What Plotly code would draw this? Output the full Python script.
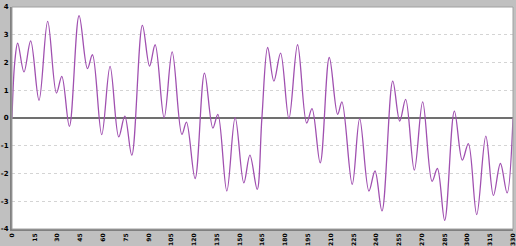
import plotly.graph_objects as go

x_vals = [0, 1.8, 3.75, 7.9, 12.3, 17.8, 23.5, 29.3, 32.8, 37.8, 44.2, 49.7,
          53.0, 59.1, 64.6, 70.3, 74.3, 78.9, 85.9, 90.6, 94.3, 100.2, 105.5,
          111.9, 114.9, 120.6, 126.8, 132.3, 135.6, 141.5, 147.0, 152.7, 156.7,
          161.5, 164.6, 168.4, 172.5, 176.9, 182.4, 188.1, 194.1, 197.6, 203.0,
          209.0, 214.5, 217.3, 224.1, 229.0, 235.1, 239.1, 243.7, 250.8, 255.4,
          259.3, 265.0, 270.5, 276.7, 280.2, 285.0, 291.4, 296.6, 300.6, 306.1,
          312.1, 317.1, 321.7, 326.1, 330]
y_vals = [0, 2.0, 2.70, 1.66, 2.78, 0.64, 3.48, 0.90, 1.50, -0.30, 3.69, 1.78,
          2.28, -0.60, 1.86, -0.68, 0.07, -1.34, 3.34, 1.87, 2.64, 0.01, 2.38,
          -0.59, -0.15, -2.18, 1.62, -0.36, 0.13, -2.63, 0.01, -2.34, -1.34,
          -2.57, 0.0, 2.54, 1.33, 2.34, -0.02, 2.64, -0.18, 0.34, -1.62,
          2.18, 0.13, 0.58, -2.39, -0.02, -2.63, -1.91, -3.35, 1.33, -0.11,
          0.67, -1.88, 0.58, -2.28, -1.82, -3.69, 0.25, -1.52, -0.92, -3.48,
          -0.65, -2.79, -1.64, -2.70, 0]
x_ticks = list(range(0, 331, 15))
y_ticks = list(range(-4, 5))

fig = go.Figure()
fig.add_trace(go.Scatter(x=x_vals, y=y_vals, mode="lines",
                         line=dict(color="#a050b0", width=1.3, shape="spline", smoothing=1.0),
                         hoverinfo="skip", cliponaxis=False))

fig.update_layout(
    width=516, height=246,
    margin=dict(l=12, r=3, t=7, b=17),
    paper_bgcolor="#c0c0c0",
    plot_bgcolor="#ffffff",
    showlegend=False,
    font=dict(family="DejaVu Sans", size=7, color="#000000"),
)
fig.update_xaxes(range=[0, 330], tickmode="array", tickvals=x_ticks,
                 ticktext=["<b>%d</b>" % t for t in x_ticks],
                 tickangle=-90, automargin=False, showgrid=False, zeroline=False,
                 showline=True, linecolor="#808080", linewidth=2, mirror=False,
                 tickfont=dict(size=6, family="DejaVu Sans", color="#000000"),
                 ticks="", ticklen=0)
fig.update_yaxes(range=[-4, 4], tickmode="array", tickvals=y_ticks,
                 ticktext=["<b>%d</b>" % t for t in y_ticks], automargin=False,
                 showgrid=True, gridcolor="#d4d4d4", griddash="dot", gridwidth=1,
                 zeroline=True, zerolinecolor="#707070", zerolinewidth=1.5,
                 showline=True, linecolor="#808080", linewidth=2,
                 tickfont=dict(size=7, family="DejaVu Sans", color="#000000"),
                 ticks="", ticklen=0)
fig.add_shape(type="rect", xref="paper", yref="paper", x0=0, x1=1, y0=0, y1=1,
              line=dict(color="#a0a0a0", width=1), layer="above")

fig.write_html("out.html")
